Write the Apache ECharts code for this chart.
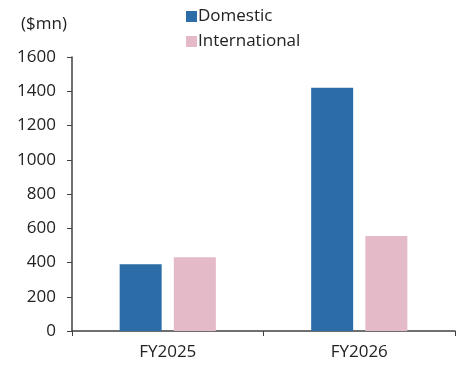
<!DOCTYPE html>
<html>
<head>
<meta charset="utf-8">
<script src="https://cdn.jsdelivr.net/npm/echarts@6/dist/echarts.min.js"></script>
<style>
  html, body { margin: 0; padding: 0; background: #fff; }
  #chart { width: 465px; height: 367px; }
</style>
</head>
<body>
<div id="chart"></div>
<script>
// Revenue split by market, $mn
const categories = ['FY2025', 'FY2026'];
const domestic = [390, 1420];
const international = [430, 555];
const yTicks = { min: 0, max: 1600, interval: 200 };

const FONT = '"Open Sans", "DejaVu Sans", sans-serif';
const chart = echarts.init(document.getElementById('chart'), null, { renderer: 'canvas' });

chart.setOption({
  animation: false,
  backgroundColor: '#fff',
  title: {
    text: '($mn)',
    left: 16,
    top: 11,
    textStyle: { fontFamily: FONT, fontSize: 17, fontWeight: 'normal', color: '#222' }
  },
  legend: {
    orient: 'vertical',
    left: 181,
    top: 3,
    itemWidth: 11,
    itemHeight: 11,
    itemGap: 8,
    icon: 'rect',
    textStyle: { fontFamily: FONT, fontSize: 17, color: '#222', padding: [0, 0, 0, -4] },
    data: ['Domestic', 'International']
  },
  grid: { left: 72, right: 10, top: 57, bottom: 36, containLabel: false },
  xAxis: {
    type: 'category',
    data: categories,
    axisLine: { lineStyle: { color: '#404040', width: 1.5 } },
    axisTick: { show: true, length: 5, lineStyle: { color: '#404040' } },
    axisLabel: { fontFamily: FONT, fontSize: 17, color: '#222', margin: 13 }
  },
  yAxis: {
    type: 'value',
    min: yTicks.min,
    max: yTicks.max,
    interval: yTicks.interval,
    axisLine: { show: true, lineStyle: { color: '#404040', width: 1.5 } },
    axisTick: { show: true, length: 5, lineStyle: { color: '#404040' } },
    splitLine: { show: false },
    axisLabel: {
      fontFamily: FONT, fontSize: 17, color: '#222', margin: 16,
      formatter: (v) => String(v)
    }
  },
  series: [
    {
      name: 'Domestic',
      type: 'bar',
      data: domestic,
      barWidth: 42,
      barGap: '29%',
      itemStyle: { color: '#2C6CA7' }
    },
    {
      name: 'International',
      type: 'bar',
      data: international,
      barWidth: 42,
      itemStyle: { color: '#E4BAC8' }
    }
  ]
});
</script>
</body>
</html>
